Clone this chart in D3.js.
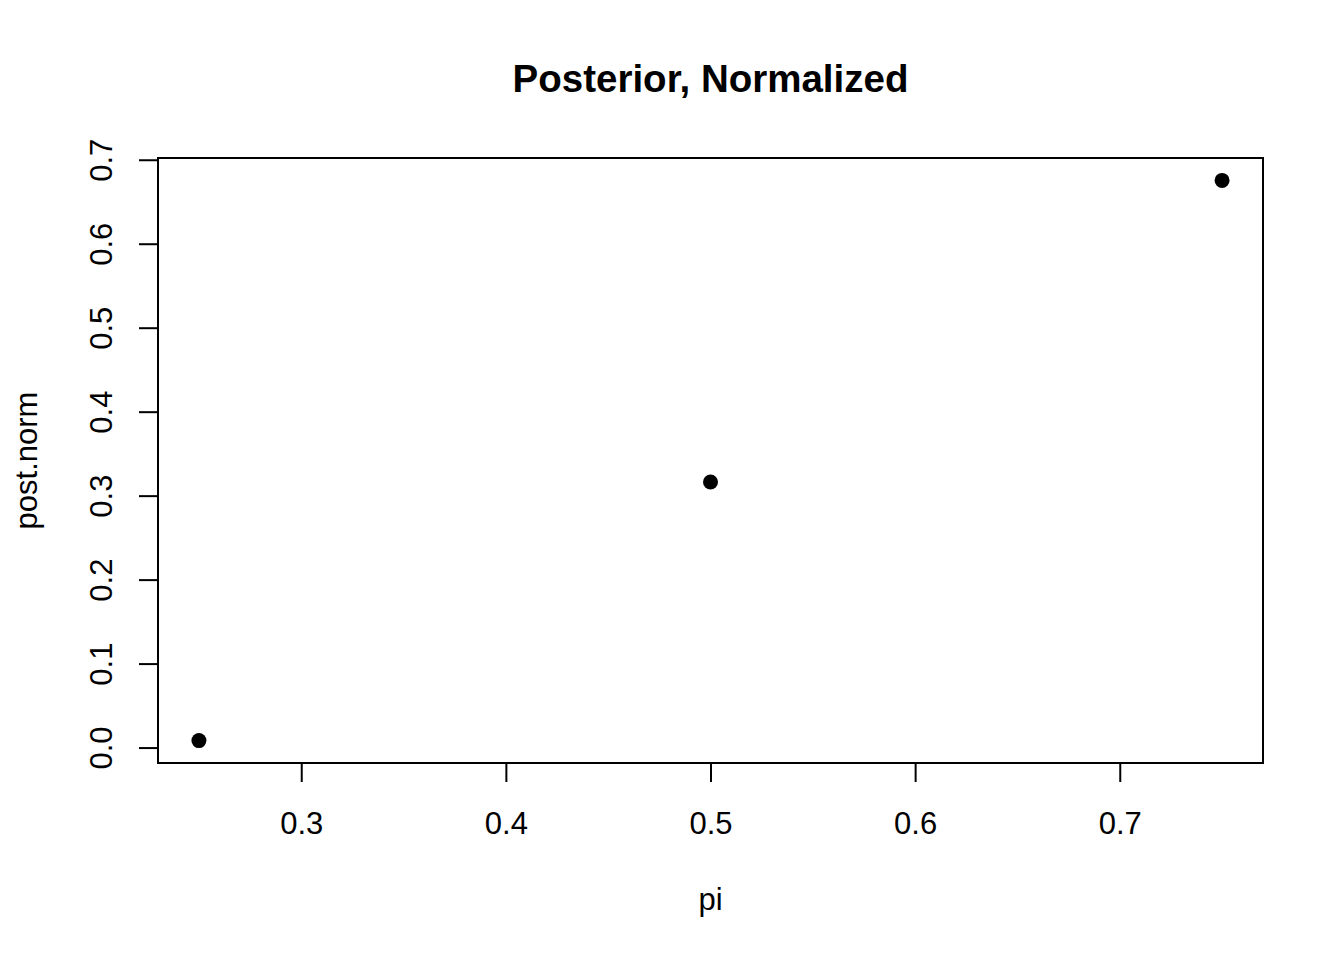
<!DOCTYPE html>
<html>
<head>
<meta charset="utf-8">
<script src="https://cdn.jsdelivr.net/npm/d3@7"></script>
<style>
  body { margin: 0; background: #fff; }
  text { font-family: "Liberation Sans", Arial, Helvetica, sans-serif; fill: #000; }
</style>
</head>
<body>
<script>
// data
let piValues = [0.25, 0.5, 0.75];
let postNorm = [0.0083, 0.3163, 0.6754];
let xTicks = [0.3, 0.4, 0.5, 0.6, 0.7];
let yTicks = [0.0, 0.1, 0.2, 0.3, 0.4, 0.5, 0.6, 0.7];

let width = 1344;
let height = 960;
let box = {left: 158, right: 1263, top: 158, bottom: 763};

let svg = d3.select('body').append('svg')
    .attr('width', width)
    .attr('height', height);

// R style 4% padding on each side of the data range
function padded(vals) {
    let [lo, hi] = d3.extent(vals);
    let pad = (hi - lo) * 0.04;
    return [lo - pad, hi + pad];
}

let x = d3.scaleLinear()
    .domain(padded(piValues))
    .range([box.left, box.right]);

let y = d3.scaleLinear()
    .domain(padded(postNorm))
    .range([box.bottom, box.top]);

// x axis
let xAxis = svg.append('g')
    .attr('transform', `translate(0,${box.bottom})`)
    .call(d3.axisBottom(x)
        .tickValues(xTicks)
        .tickFormat(d3.format('.1f'))
        .tickSize(19)
        .tickPadding(52));
xAxis.select('.domain').remove();
xAxis.selectAll('line').attr('stroke', '#000').attr('stroke-width', 2);
xAxis.selectAll('text')
    .attr('dy', null)
    .attr('y', 71)
    .style('font-size', '31px');

// y axis, labels turned like R's las=0
let yAxis = svg.append('g')
    .attr('transform', `translate(${box.left},0)`)
    .call(d3.axisLeft(y)
        .tickValues(yTicks)
        .tickFormat(d3.format('.1f'))
        .tickSize(19));
yAxis.select('.domain').remove();
yAxis.selectAll('line').attr('stroke', '#000').attr('stroke-width', 2);
yAxis.selectAll('text')
    .attr('x', null)
    .attr('dy', null)
    .attr('text-anchor', 'middle')
    .attr('transform', 'translate(-46,0) rotate(-90)')
    .style('font-size', '31px');

// plot frame
svg.append('rect')
    .attr('x', box.left)
    .attr('y', box.top)
    .attr('width', box.right - box.left)
    .attr('height', box.bottom - box.top)
    .attr('fill', 'none')
    .attr('stroke', '#000')
    .attr('stroke-width', 2);

// points
svg.selectAll('circle.pt')
    .data(piValues.map((p, i) => ({p: p, v: postNorm[i]})))
    .join('circle')
    .attr('class', 'pt')
    .attr('cx', d => x(d.p))
    .attr('cy', d => y(d.v))
    .attr('r', 7.5)
    .attr('fill', '#000');

// title and axis titles
svg.append('text')
    .attr('x', (box.left + box.right) / 2)
    .attr('y', 92)
    .attr('text-anchor', 'middle')
    .style('font-size', '38.5px')
    .style('font-weight', 'bold')
    .text('Posterior, Normalized');

svg.append('text')
    .attr('x', (box.left + box.right) / 2)
    .attr('y', 910)
    .attr('text-anchor', 'middle')
    .style('font-size', '31px')
    .text('pi');

svg.append('text')
    .attr('transform', `translate(37,${(box.top + box.bottom) / 2}) rotate(-90)`)
    .attr('text-anchor', 'middle')
    .style('font-size', '31px')
    .text('post.norm');
</script>
</body>
</html>
